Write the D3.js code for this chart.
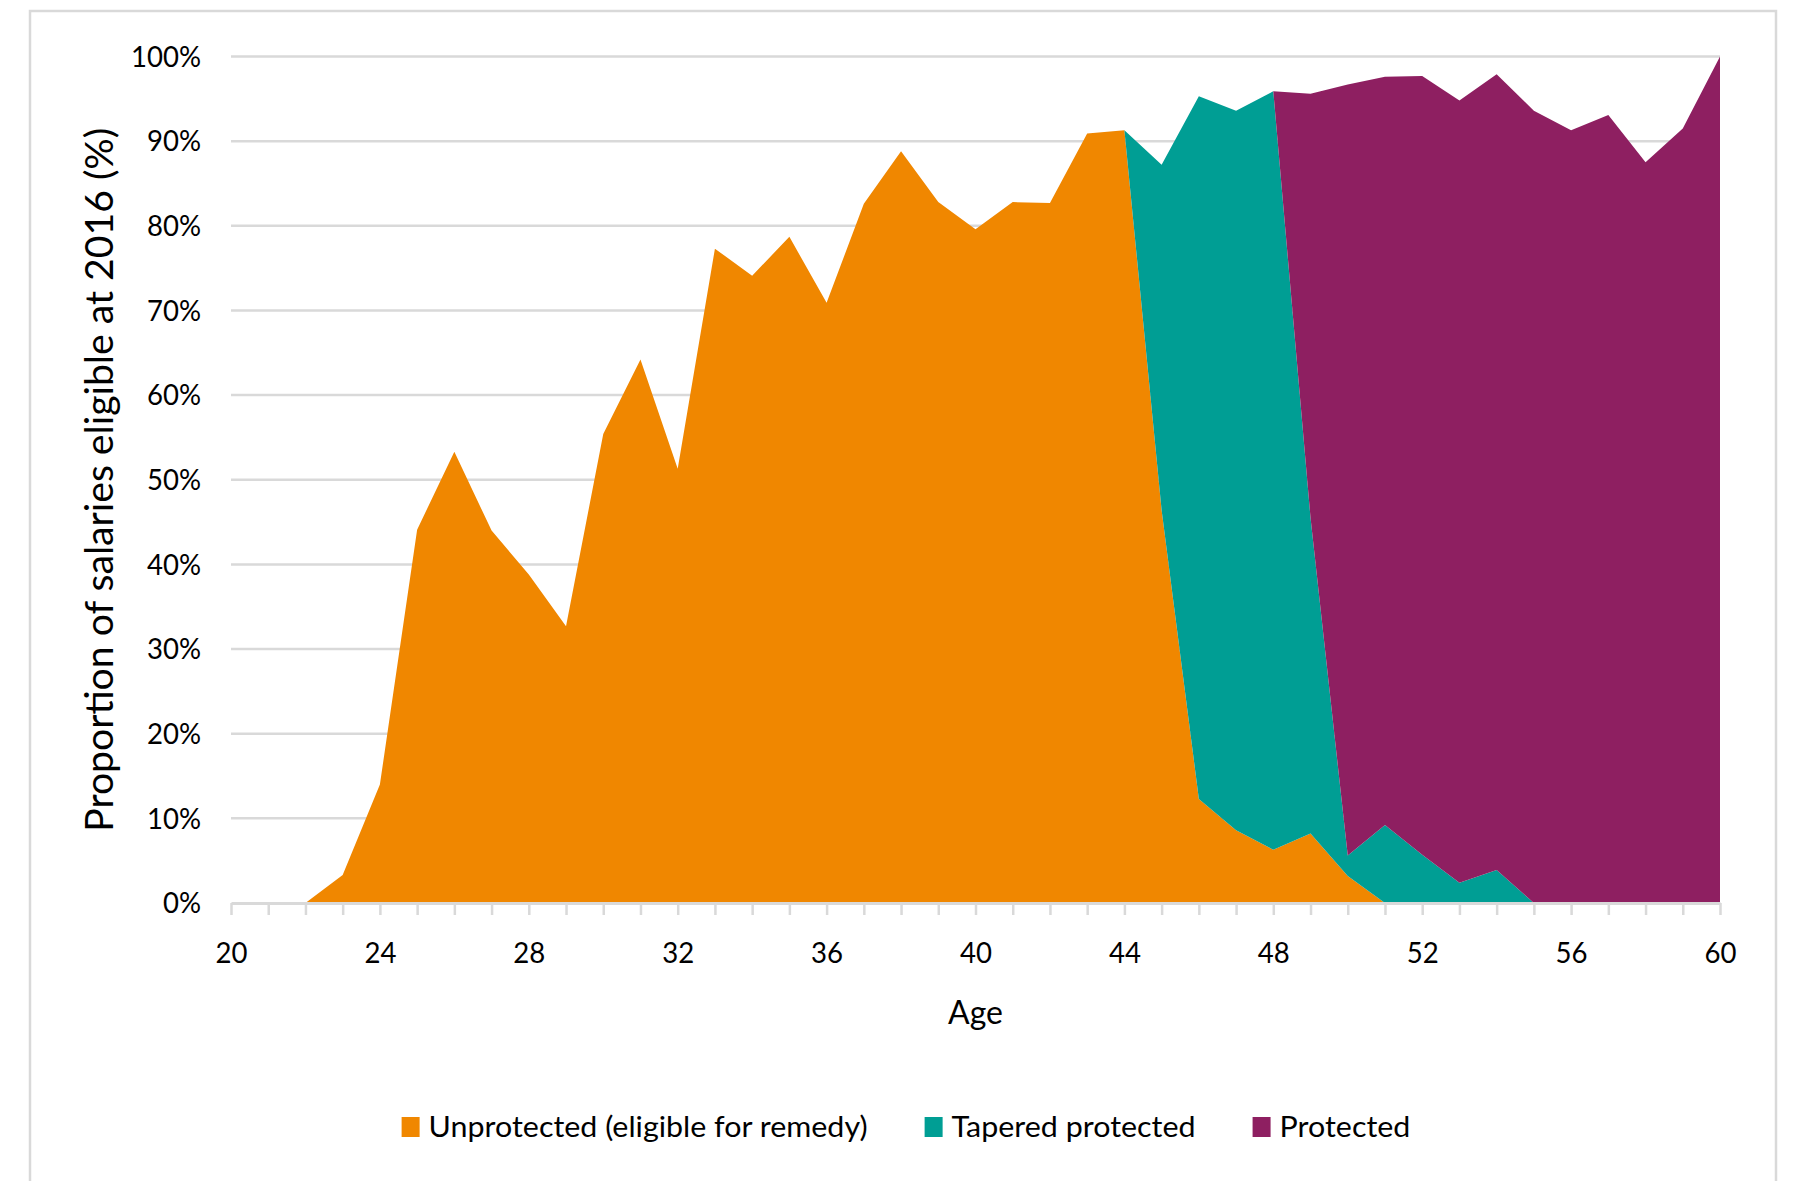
<!DOCTYPE html>
<html>
<head>
<meta charset="utf-8">
<script src="https://cdn.jsdelivr.net/npm/d3@7"></script>
<style>
  body { margin: 0; background: #fff; }
  svg { display: block; }
  text { font-family: Lato, "Open Sans", sans-serif; fill: #000; }
</style>
</head>
<body>
<svg id="chart" width="1794" height="1181"></svg>
<script>
// ---------------- DATA ----------------
const ages = [20,21,22,23,24,25,26,27,28,29,30,31,32,33,34,35,36,37,38,39,40,
              41,42,43,44,45,46,47,48,49,50,51,52,53,54,55,56,57,58,59,60];
const unprotected = [0,0,0,3.3,14.0,44.1,53.3,44.0,38.8,32.7,55.4,64.2,51.3,77.3,74.1,78.7,70.9,82.6,88.8,82.8,79.6,
                     82.8,82.7,90.9,91.3,46.4,12.3,8.6,6.3,8.2,3.2,0,0,0,0,0,0,0,0,0,0];
const tapered     = [0,0,0,0,0,0,0,0,0,0,0,0,0,0,0,0,0,0,0,0,0,
                     0,0,0,0,40.8,83.0,85.0,89.6,37.3,2.4,9.2,5.7,2.4,3.9,0,0,0,0,0,0];
const protectedV  = [0,0,0,0,0,0,0,0,0,0,0,0,0,0,0,0,0,0,0,0,0,
                     0,0,0,0,0,0,0,0,50.1,91.1,88.4,92.0,92.4,94.0,93.6,91.3,93.1,87.5,91.5,100];
const seriesNames  = ["Unprotected (eligible for remedy)", "Tapered protected", "Protected"];
const seriesColors = ["#F08700", "#009E94", "#8E1F61"];
const yTickValues  = [0,10,20,30,40,50,60,70,80,90,100];
const xLabelValues = [20,24,28,32,36,40,44,48,52,56,60];
const xTitle = "Age";
const yTitle = "Proportion of salaries eligible at 2016 (%)";

// ---------------- CHART ----------------
const svg = d3.select("#chart");
const GRID = "#D9D9D9";

// outer frame
svg.append("rect")
  .attr("x", 30).attr("y", 11).attr("width", 1746).attr("height", 1210)
  .attr("fill", "#fff").attr("stroke", GRID).attr("stroke-width", 2.5);

const x = d3.scaleLinear().domain([20, 60]).range([231, 1720]);
const y = d3.scaleLinear().domain([0, 100]).range([903, 56.5]);

function measure(str, size) {
  const t = svg.append("text").attr("font-size", size).text(str);
  const w = t.node().getComputedTextLength();
  t.remove();
  return w;
}

// gridlines
svg.append("g").selectAll("line")
  .data(yTickValues.filter(d => d > 0))
  .join("line")
  .attr("x1", x(20)).attr("x2", x(60))
  .attr("y1", d => y(d)).attr("y2", d => y(d))
  .attr("stroke", GRID).attr("stroke-width", 2.5);

// stacked areas
const rows = ages.map((a, i) => ({ age: a, u: unprotected[i], t: tapered[i], p: protectedV[i] }));
const stacked = d3.stack().keys(["u", "t", "p"])(rows);
const area = d3.area()
  .x(d => x(d.data.age))
  .y0(d => y(d[0]))
  .y1(d => y(d[1]));
svg.append("g").selectAll("path")
  .data(stacked)
  .join("path")
  .attr("d", area)
  .attr("fill", (d, i) => seriesColors[i]);

// x axis
const tickFs = 28.5;
const xAxis = d3.axisBottom(x)
  .tickValues(ages)
  .tickSize(12)
  .tickSizeOuter(0)
  .tickFormat(d => xLabelValues.includes(d) ? d : "");
const gx = svg.append("g").attr("transform", `translate(0,${y(0)})`).call(xAxis);
gx.select(".domain").attr("stroke", GRID).attr("stroke-width", 3);
gx.selectAll(".tick line").attr("stroke", GRID).attr("stroke-width", 2.5);
const sxX = 32 / measure("40", tickFs);
gx.selectAll(".tick text")
  .attr("font-size", tickFs)
  .attr("font-family", "Lato, sans-serif")
  .attr("fill", "#000")
  .attr("y", null).attr("dy", null)
  .attr("transform", `translate(0,${50 + 0.36 * tickFs}) scale(${sxX},1)`);

// y tick labels
const sxY = 70 / measure("100%", tickFs);
svg.append("g").selectAll("text")
  .data(yTickValues)
  .join("text")
  .attr("font-size", tickFs)
  .attr("text-anchor", "end")
  .attr("transform", d => `translate(201,${y(d) + 0.36 * tickFs}) scale(${sxY},1)`)
  .text(d => d + "%");

// x title
const ageFs = 32;
const sxA = 55 / measure(xTitle, ageFs);
svg.append("text")
  .attr("font-size", ageFs)
  .attr("text-anchor", "middle")
  .attr("transform", `translate(${(x(20) + x(60)) / 2},1024) scale(${sxA},1)`)
  .text(xTitle);

// y title
const ytFs = 38;
const sxT = 704 / measure(yTitle, ytFs);
svg.append("text")
  .attr("font-size", ytFs)
  .attr("text-anchor", "middle")
  .attr("transform", `translate(113,${(y(0) + y(100)) / 2}) rotate(-90) scale(${sxT},1)`)
  .text(yTitle);

// legend
const legFs = 29;
const sxL = 439 / measure(seriesNames[0], legFs);
const sw = 18, sh = 20, gapTxt = 9, gapItem = 57;
const widths = seriesNames.map(n => measure(n, legFs) * sxL);
const total = d3.sum(widths) + seriesNames.length * (sw + gapTxt) + (seriesNames.length - 1) * gapItem;
let cx = 906 - total / 2;
const baseY = 1137;
const lg = svg.append("g");
seriesNames.forEach((n, i) => {
  lg.append("rect").attr("x", cx).attr("y", baseY - sh).attr("width", sw).attr("height", sh)
    .attr("fill", seriesColors[i]);
  lg.append("text").attr("font-size", legFs)
    .attr("transform", `translate(${cx + sw + gapTxt},${baseY}) scale(${sxL},1)`)
    .text(n);
  cx += sw + gapTxt + widths[i] + gapItem;
});
</script>
</body>
</html>
